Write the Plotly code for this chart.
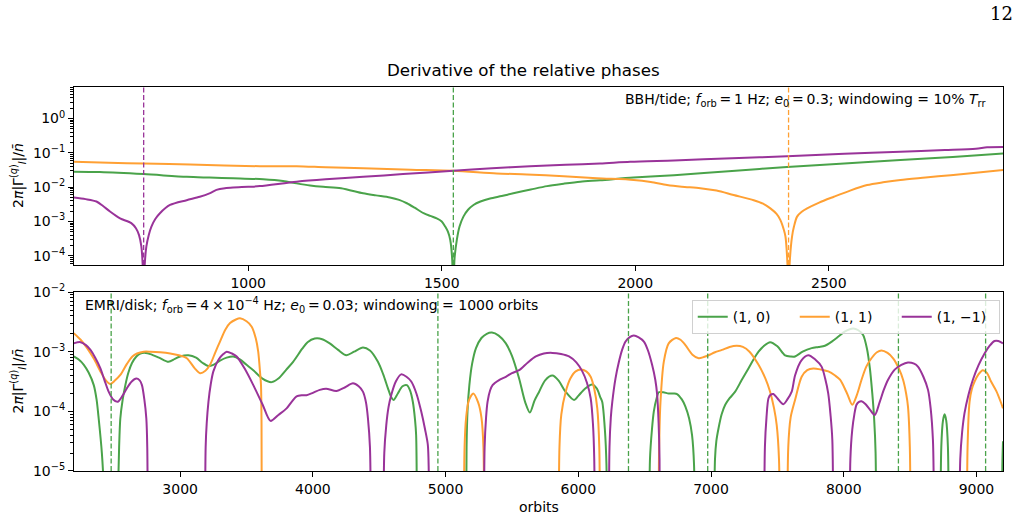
import plotly.graph_objects as go

# ---------------- data (y values given as log10 of 2π|Γ|/n̄) ----------------
# Top panel: BBH/tide
top_green_x = [549, 617, 730, 841, 900, 961, 1039, 1090, 1125, 1160, 1194, 1240, 1297, 1330, 1366, 1390,
               1410, 1430, 1453, 1470, 1487, 1500, 1509, 1516, 1522, 1527, 1530, 1533, 1539, 1546, 1556,
               1568, 1582, 1600, 1625, 1655, 1685, 1730, 1772, 1815, 1858, 1909, 1995, 2100, 2250, 2392,
               2540, 2685, 2820, 2952]
top_green_log = [-1.55, -1.56, -1.62, -1.70, -1.72, -1.74, -1.77, -1.82, -1.89, -1.95, -1.99, -2.03, -2.18,
                 -2.24, -2.30, -2.37, -2.47, -2.60, -2.76, -2.84, -2.91, -3.00, -3.15, -3.30, -3.54, -4.1,
                 -5.5, -4.1, -3.54, -3.15, -2.86, -2.66, -2.52, -2.42, -2.33, -2.26, -2.18, -2.07, -1.97,
                 -1.90, -1.84, -1.80, -1.72, -1.65, -1.53, -1.41, -1.31, -1.21, -1.12, -1.02]

top_orange_x = [549, 640, 730, 850, 1030, 1125, 1200, 1297, 1420, 1530, 1642, 1720, 1815, 1901, 1996, 2040,
                2082, 2120, 2168, 2210, 2254, 2306, 2330, 2349, 2365, 2375, 2384, 2388, 2393, 2396, 2399,
                2405, 2410, 2418, 2430, 2444, 2475, 2513, 2555, 2599, 2640, 2685, 2750, 2815, 2880, 2952]
top_orange_log = [-1.26, -1.29, -1.31, -1.34, -1.39, -1.39, -1.42, -1.45, -1.49, -1.52, -1.60, -1.63, -1.68,
                  -1.74, -1.79, -1.85, -1.94, -1.99, -2.03, -2.10, -2.23, -2.38, -2.48, -2.62, -2.78, -2.96,
                  -3.25, -3.44, -4.2, -5.5, -4.2, -3.44, -3.15, -2.86, -2.72, -2.62, -2.45, -2.28, -2.10,
                  -1.94, -1.86, -1.79, -1.72, -1.65, -1.58, -1.50]

top_purple_x = [549, 580, 608, 625, 643, 669, 698, 710, 718, 724, 728, 730, 732, 737, 743, 750, 760, 772,
                798, 841, 875, 900, 918, 940, 961, 1000, 1030, 1125, 1200, 1297, 1400, 1530, 1630, 1728,
                1820, 1909, 1987, 2100, 2250, 2392, 2540, 2685, 2800, 2880, 2909, 2952]
top_purple_log = [-2.30, -2.35, -2.42, -2.55, -2.71, -2.91, -3.05, -3.20, -3.40, -3.73, -4.4, -5.5, -4.4,
                  -3.73, -3.40, -3.15, -2.93, -2.76, -2.52, -2.38, -2.28, -2.18, -2.08, -2.03, -2.01, -1.99,
                  -1.97, -1.84, -1.77, -1.70, -1.62, -1.52, -1.45, -1.39, -1.35, -1.31, -1.26, -1.22, -1.16,
                  -1.10, -1.03, -0.97, -0.92, -0.88, -0.84, -0.83]

top_vlines_x = [730, 1530, 2396]          # purple, green, orange

# Bottom panel: EMRI/disk  (None separates pieces; -7 marks a drop below the axis)
bot_green_x = [2198, 2240, 2274, 2310, 2349, 2370, 2386, 2410, 2424, 2429, None,
               2527, 2533, 2540, 2549, 2567, 2587, 2610, 2637, 2670, 2700, 2740, 2775, 2840, 2912, 2960,
               3000, 3062, 3120, 3170, 3213, 3250, 3300, 3350, 3400, 3450, 3500, 3551, 3620, 3689, 3740,
               3800, 3851, 3920, 3960, 4014, 4070, 4127, 4190, 4252, 4310, 4377, 4430, 4490, 4530, 4565,
               4590, 4608, 4640, 4675, 4708, 4732, 4753, 4770, 4778, 4785, None,
               5152, 5158, 5165, 5179, 5200, 5229, 5270, 5310, 5349, 5400, 5454, 5500, 5554, 5600, 5635,
               5670, 5705, 5750, 5805, 5850, 5900, 5968, 6000, 6050, 6105, 6140, 6165, 6180, 6200, 6212,
               6218, None,
               6534, 6540, 6555, 6569, 6590, 6606, 6640, 6681, 6720, 6744, 6780, 6807, 6835, 6857, 6872,
               6880, None,
               7022, 7030, 7040, 7057, 7080, 7107, 7140, 7182, 7230, 7282, 7320, 7358, 7400, 7445, 7500,
               7558, 7600, 7633, 7690, 7758, 7810, 7858, 7910, 7958, 8010, 8071, 8110, 8146, 8175, 8197,
               8215, 8229, 8240, 8246, None,
               8728, 8735, 8748, 8760, 8772, 8785, 8792, None,
               9188, 9195, 9200]
bot_green_log = [-3.08, -3.14, -3.22, -3.35, -3.56, -3.80, -4.12, -4.7, -5.3, -7, None,
                 -7, -5.3, -4.6, -4.12, -3.80, -3.56, -3.35, -3.19, -3.08, -3.03, -3.02, -3.04, -3.10,
                 -3.17, -3.12, -3.08, -3.06, -3.10, -3.19, -3.24, -3.22, -3.15, -3.10, -3.08, -3.13, -3.22,
                 -3.31, -3.45, -3.51, -3.45, -3.30, -3.17, -2.95, -2.84, -2.78, -2.79, -2.86, -2.97, -3.06,
                 -3.00, -2.93, -2.98, -3.17, -3.38, -3.61, -3.76, -3.81, -3.70, -3.58, -3.56, -3.65, -3.84,
                 -4.15, -4.40, -7, None,
                 -7, -4.6, -4.0, -3.56, -3.20, -2.94, -2.77, -2.70, -2.68, -2.73, -2.86, -3.07, -3.45,
                 -3.85, -4.02, -3.82, -3.67, -3.48, -3.40, -3.48, -3.66, -3.81, -3.74, -3.62, -3.55, -3.62,
                 -3.76, -3.84, -4.3, -4.9, -7, None,
                 -7, -4.8, -4.3, -4.00, -3.78, -3.68, -3.68, -3.70, -3.70, -3.71, -3.80, -3.92, -4.12,
                 -4.40, -4.9, -7, None,
                 -7, -4.8, -4.5, -4.28, -4.05, -3.89, -3.78, -3.67, -3.48, -3.28, -3.13, -3.00, -2.90,
                 -2.84, -2.91, -3.06, -3.08, -3.08, -3.00, -2.94, -2.92, -2.90, -2.83, -2.75, -2.66, -2.61,
                 -2.64, -2.72, -2.95, -3.28, -3.70, -4.12, -4.7, -7, None,
                 -7, -4.6, -4.15, -4.05, -4.15, -4.6, -7, None,
                 -7, -4.9, -4.5]

bot_orange_x = [2198, 2250, 2299, 2350, 2399, 2440, 2474, 2510, 2549, 2600, 2640, 2675, 2725, 2775, 2850,
                2925, 2990, 3050, 3110, 3150, 3190, 3225, 3265, 3300, 3340, 3376, 3420, 3451, 3500, 3539,
                3570, 3588, 3602, 3609, 3613, 3616, None,
                5138, 5143, 5155, 5175, 5209, 5245, 5270, 5285, 5291, None,
                5852, 5858, 5872, 5905, 5940, 5980, 6020, 6060, 6093, 6120, 6143, 6158, 6163, None,
                6603, 6609, 6619, 6644, 6681, 6736, 6770, 6807, 6860, 6907, 6945, 6982, 7030, 7082, 7140,
                7194, 7240, 7290, 7358, 7410, 7445, 7475, 7495, 7512, 7520, None,
                7575, 7582, 7600, 7633, 7683, 7725, 7771, 7830, 7884, 7935, 7972, 8025, 8064, 8100, 8134,
                8170, 8209, 8250, 8284, 8330, 8372, 8415, 8447, 8470, 8484, 8498, 8505, None,
                8928, 8933, 8948, 8966, 8986, 9015, 9048, 9080, 9110, 9150, 9186, 9200]
bot_orange_log = [-2.69, -2.80, -2.94, -3.12, -3.33, -3.48, -3.54, -3.48, -3.39, -3.20, -3.08, -3.03, -3.00,
                  -3.00, -3.01, -3.03, -3.06, -3.11, -3.28, -3.36, -3.32, -3.22, -3.01, -2.83, -2.63, -2.52,
                  -2.46, -2.44, -2.49, -2.58, -2.78, -3.00, -3.35, -3.56, -4.2, -7, None,
                  -7, -4.6, -4.1, -3.82, -3.70, -3.85, -4.1, -4.6, -7, None,
                  -7, -4.6, -4.05, -3.67, -3.45, -3.33, -3.30, -3.33, -3.42, -3.62, -3.95, -4.6, -7, None,
                  -7, -4.6, -3.85, -3.17, -2.86, -2.77, -2.80, -2.89, -3.05, -3.11, -3.09, -3.06, -3.01,
                  -2.97, -2.92, -2.90, -2.92, -3.00, -3.22, -3.45, -3.67, -3.95, -4.23, -4.8, -7, None,
                  -7, -4.6, -4.1, -3.81, -3.42, -3.31, -3.28, -3.30, -3.33, -3.40, -3.47, -3.70, -3.89,
                  -3.72, -3.47, -3.25, -3.11, -3.01, -2.98, -3.02, -3.11, -3.28, -3.47, -3.70, -3.92, -4.6,
                  -7, None,
                  -7, -4.6, -3.84, -3.62, -3.50, -3.38, -3.31, -3.36, -3.50, -3.66, -3.86, -3.95]

bot_purple_x = [2198, 2249, 2290, 2324, 2360, 2399, 2430, 2461, 2495, 2529, 2565, 2599, 2635, 2669, 2695,
                2712, 2730, 2745, 2752, 2757, None,
                3186, 3192, 3200, 3213, 3230, 3250, 3290, 3325, 3351, 3390, 3426, 3490, 3551, 3620, 3681,
                3740, 3802, 3840, 3877, 3915, 3952, 4000, 4052, 4100, 4177, 4240, 4302, 4345, 4377, 4400,
                4415, 4430, 4438, None,
                4531, 4538, 4553, 4570, 4590, 4625, 4665, 4705, 4741, 4780, 4816, 4845, 4866, 4873, 4878,
                None,
                5288, 5294, 5305, 5316, 5335, 5354, 5400, 5454, 5500, 5554, 5620, 5680, 5740, 5805, 5870,
                5930, 5985, 6030, 6065, 6093, 6110, 6120, 6125, None,
                6229, 6235, 6245, 6256, 6280, 6306, 6330, 6356, 6385, 6418, 6455, 6494, 6525, 6556, 6580,
                6594, 6605, 6612, 6616, None,
                7400, 7406, 7418, 7433, 7450, 7470, 7500, 7545, 7575, 7608, 7633, 7680, 7733, 7785, 7833,
                7860, 7883, 7900, 7914, 7921, None,
                8044, 8050, 8064, 8080, 8096, 8115, 8134, 8165, 8200, 8234, 8270, 8300, 8334, 8384, 8434,
                8484, 8530, 8559, 8600, 8635, 8655, 8672, 8677, 8680, None,
                8870, 8878, 8892, 8910, 8940, 8973, 9015, 9061, 9100, 9136, 9165, 9200]
bot_purple_log = [-2.86, -2.84, -2.89, -2.97, -3.10, -3.28, -3.48, -3.67, -3.80, -3.84, -3.74, -3.61, -3.50,
                  -3.45, -3.48, -3.56, -3.80, -4.12, -4.6, -7, None,
                  -7, -4.6, -4.2, -3.84, -3.55, -3.33, -3.13, -3.04, -3.00, -3.03, -3.08, -3.30, -3.56,
                  -3.88, -4.16, -4.06, -3.95, -3.84, -3.75, -3.73, -3.73, -3.69, -3.64, -3.62, -3.66, -3.60,
                  -3.53, -3.58, -3.67, -3.85, -4.12, -4.6, -7, None,
                  -7, -4.7, -4.23, -3.93, -3.73, -3.50, -3.38, -3.42, -3.50, -3.70, -4.00, -4.30, -4.56,
                  -5.0, -7, None,
                  -7, -4.6, -4.1, -3.84, -3.65, -3.56, -3.48, -3.42, -3.36, -3.31, -3.18, -3.08, -3.03,
                  -3.02, -3.04, -3.08, -3.18, -3.33, -3.52, -3.78, -4.2, -4.8, -7, None,
                  -7, -4.6, -4.1, -3.84, -3.45, -3.17, -2.97, -2.83, -2.76, -2.73, -2.76, -2.83, -2.98,
                  -3.22, -3.47, -3.72, -4.2, -4.8, -7, None,
                  -7, -4.6, -4.1, -3.78, -3.72, -3.71, -3.78, -3.88, -3.80, -3.67, -3.40, -3.15, -3.06,
                  -3.13, -3.25, -3.45, -3.70, -4.05, -4.48, -7, None,
                  -7, -4.8, -4.31, -4.05, -3.89, -3.84, -3.83, -3.88, -3.98, -4.06, -3.85, -3.65, -3.47,
                  -3.30, -3.22, -3.18, -3.20, -3.25, -3.42, -3.64, -3.95, -4.48, -5.0, -7, None,
                  -7, -4.8, -4.35, -4.03, -3.72, -3.47, -3.23, -3.03, -2.90, -2.82, -2.82, -2.86]

bot_vlines_x = [2480, 4942, 6378, 6975, 8412, 9069]

top_xticks = [1000, 1500, 2000, 2500]
bot_xticks = [3000, 4000, 5000, 6000, 7000, 8000, 9000]
top_ytick_exp = [0, -1, -2, -3, -4]
bot_ytick_exp = [-2, -3, -4, -5]
labels = ["(1, 0)", "(1, 1)", "(1, −1)"]

# ---------------- styling ----------------
GREEN = "#4aa34a"
ORANGE = "#ffa033"
PURPLE = "#993399"
FONT = "DejaVu Sans"
TS = "\u2009"   # thin space for math-like spacing


def to_val(logs):
    return [None if v is None else 10 ** v for v in logs]


def pow_label(e):
    s = str(e).replace("-", "−")
    return "10<sup>" + s + "</sup>"


fig = go.Figure()

top_series = [(top_green_x, top_green_log, GREEN),
              (top_orange_x, top_orange_log, ORANGE),
              (top_purple_x, top_purple_log, PURPLE)]
for xs, ys, col in top_series:
    fig.add_trace(go.Scatter(x=xs, y=to_val(ys), mode="lines", xaxis="x", yaxis="y",
                             line=dict(color=col, width=2, shape="spline", smoothing=0.8),
                             showlegend=False, hoverinfo="skip"))

bot_series = [(bot_green_x, bot_green_log, GREEN, labels[0]),
              (bot_orange_x, bot_orange_log, ORANGE, labels[1]),
              (bot_purple_x, bot_purple_log, PURPLE, labels[2])]
for xs, ys, col, lab in bot_series:
    fig.add_trace(go.Scatter(x=xs, y=to_val(ys), mode="lines", xaxis="x2", yaxis="y2", name=lab,
                             line=dict(color=col, width=2, shape="spline", smoothing=0.8),
                             connectgaps=False, showlegend=True, hoverinfo="skip"))

shapes = []
for xv, col in zip(top_vlines_x, [PURPLE, GREEN, ORANGE]):
    shapes.append(dict(type="line", xref="x", yref="y domain", x0=xv, x1=xv, y0=0, y1=1,
                       line=dict(color=col, width=1.3, dash="5px,2.5px")))
for xv in bot_vlines_x:
    shapes.append(dict(type="line", xref="x2", yref="y2 domain", x0=xv, x1=xv, y0=0, y1=1,
                       line=dict(color=GREEN, width=1.3, dash="5px,2.5px")))

axis_style = dict(showline=True, linecolor="black", linewidth=1, mirror=True, ticks="outside",
                  ticklen=5, tickwidth=1, tickcolor="black", showgrid=False, zeroline=False,
                  tickfont=dict(family=FONT, size=14, color="black"))
ylog_style = dict(type="log",
                  minor=dict(ticks="outside", ticklen=3, tickwidth=1, tickcolor="black", showgrid=False,
                             dtick="D1"))

ylab = "2<i>π</i>|Γ<sup>(<i>q</i>)</sup><sub><i>l</i></sub>|/<i>n̄</i>"
annotations = [
    dict(text="Derivative of the relative phases", xref="paper", yref="paper", x=0.4842, y=1.044,
         xanchor="center", yanchor="middle", showarrow=False, font=dict(family=FONT, size=16.7)),
    dict(text="12", xref="paper", yref="paper", x=0.998, y=1.191, xanchor="center", yanchor="middle",
         showarrow=False, font=dict(family="DejaVu Serif", size=18)),
    dict(text=f"BBH/tide; <i>f</i><sub>orb</sub>{TS}={TS}1 Hz; <i>e</i><sub>0</sub>{TS}={TS}0.3; "
              f"windowing = 10% <i>T</i><sub>rr</sub>",
         xref="paper", yref="paper", x=0.9835, y=0.966, xanchor="right", yanchor="middle",
         showarrow=False, font=dict(family=FONT, size=14)),
    dict(text=f"EMRI/disk; <i>f</i><sub>orb</sub>{TS}={TS}4{TS}×{TS}10<sup>−4</sup> Hz; "
              f"<i>e</i><sub>0</sub>{TS}={TS}0.03; windowing = 1000 orbits",
         xref="paper", yref="paper", x=0.0097, y=0.432, xanchor="left", yanchor="middle",
         showarrow=False, font=dict(family=FONT, size=14)),
    dict(text=ylab, xref="paper", yref="paper", x=0, xshift=-56, y=0.7683, xanchor="center",
         yanchor="middle", textangle=-90, showarrow=False, font=dict(family=FONT, size=14)),
    dict(text=ylab, xref="paper", yref="paper", x=0, xshift=-56, y=0.233, xanchor="center",
         yanchor="middle", textangle=-90, showarrow=False, font=dict(family=FONT, size=14)),
    dict(text="orbits", xref="paper", yref="paper", x=0.5, y=-0.0935, xanchor="center",
         yanchor="middle", showarrow=False, font=dict(family=FONT, size=14)),
]

fig.update_layout(
    width=1018, height=519, margin=dict(l=74, r=15, t=87, b=48),
    paper_bgcolor="white", plot_bgcolor="white",
    font=dict(family=FONT, size=14, color="black"),
    xaxis=dict(domain=[0, 1], range=[550, 2950], anchor="y", tickvals=top_xticks, **axis_style),
    yaxis=dict(domain=[0.5365, 1], range=[-4.27, 0.92], anchor="x",
               tickvals=[10 ** e for e in top_ytick_exp], ticktext=[pow_label(e) for e in top_ytick_exp],
               **ylog_style, **axis_style),
    xaxis2=dict(domain=[0, 1], range=[2200, 9200], anchor="y2", tickvals=bot_xticks, **axis_style),
    yaxis2=dict(domain=[0, 0.466], range=[-5, -2], anchor="x2",
                tickvals=[10 ** e for e in bot_ytick_exp], ticktext=[pow_label(e) for e in bot_ytick_exp],
                **ylog_style, **axis_style),
    legend=dict(orientation="h", x=0.9965, y=0.445, xanchor="right", yanchor="top",
                bgcolor="rgba(255,255,255,0.8)", bordercolor="#d0d0d0", borderwidth=1,
                font=dict(family=FONT, size=14), entrywidth=57, entrywidthmode="pixels",
                tracegroupgap=0),
    shapes=shapes, annotations=annotations,
)

fig.write_html("out.html")
